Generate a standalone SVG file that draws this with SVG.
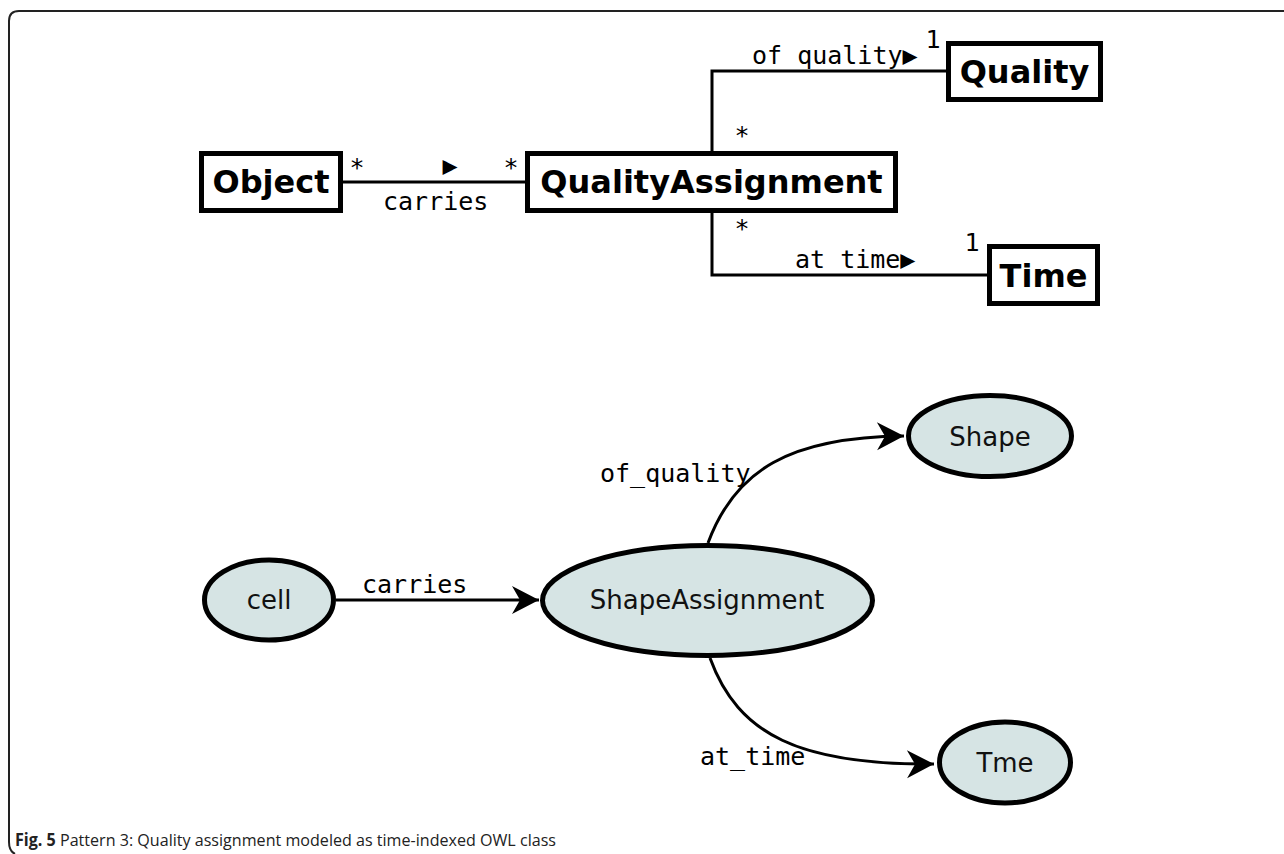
<svg xmlns="http://www.w3.org/2000/svg" width="1284" height="854" viewBox="0 0 1284 854">
<style>
.box{fill:#fff;stroke:#000;stroke-width:5}
.bt{font-family:"DejaVu Sans",sans-serif;font-weight:bold;font-size:32px;text-anchor:middle;fill:#000}
.mono{font-family:"DejaVu Sans Mono",monospace;font-size:25px;fill:#000}
.uline{fill:none;stroke:#000;stroke-width:3}
.ell{fill:#d6e4e4;stroke:#000;stroke-width:5}
.nt{font-family:"DejaVu Sans",sans-serif;font-size:26px;text-anchor:middle;fill:#111}
.edge{fill:none;stroke:#000;stroke-width:3}
.cap{font-family:"Open Sans",sans-serif;font-size:17px;fill:#222}
</style>
<defs>
<marker id="arr" markerUnits="userSpaceOnUse" viewBox="-28 -15 29 30" refX="0" refY="0" markerWidth="29" markerHeight="30" orient="auto">
<path d="M0,0 L-27,-14 L-19,0 L-27,14 Z" fill="#000"/>
</marker>
</defs>
<rect width="1284" height="854" fill="#fff"/>
<path d="M1284,11 H19 Q9,11 9,21 V842 Q9,851 15,854" fill="none" stroke="#222" stroke-width="2"/>

<g id="connectors">
<line class="uline" x1="343" y1="182" x2="525" y2="182"/>
<path class="uline" d="M712,151 V71 H946"/>
<path class="uline" d="M712,213 V275 H987"/>
<text class="mono" x="357" y="176" text-anchor="middle">*</text>
<text class="mono" x="450" y="174" text-anchor="middle">▶</text>
<text class="mono" x="511" y="176" text-anchor="middle">*</text>
<text class="mono" x="383" y="210">carries</text>
<text class="mono" x="752" y="64">of quality▶</text>
<text class="mono" x="933" y="48" text-anchor="middle">1</text>
<text class="mono" x="742" y="144" text-anchor="middle">*</text>
<text class="mono" x="742" y="237" text-anchor="middle">*</text>
<text class="mono" x="795" y="268">at time▶</text>
<text class="mono" x="972" y="251" text-anchor="middle">1</text>

<line class="edge" x1="336" y1="600" x2="539" y2="600" marker-end="url(#arr)"/>
<path class="edge" d="M708,543 C735,470 790,437 904,436" marker-end="url(#arr)"/>
<path class="edge" d="M710,658 C738,735 800,765 934,764" marker-end="url(#arr)"/>
<text class="mono" x="362" y="593">carries</text>
<text class="mono" x="600" y="482">of_quality</text>
<text class="mono" x="700" y="765">at_time</text>
</g>

<g id="Object"><rect class="box" x="201.5" y="153.5" width="139" height="57"/><text class="bt" x="271" y="193">Object</text></g>
<g id="QualityAssignment"><rect class="box" x="527.5" y="153.5" width="368" height="57"/><text class="bt" x="711.5" y="193">QualityAssignment</text></g>
<g id="Quality"><rect class="box" x="948.5" y="43.5" width="152" height="56"/><text class="bt" x="1024.5" y="83">Quality</text></g>
<g id="Time"><rect class="box" x="989.5" y="246.5" width="108" height="57"/><text class="bt" x="1043.5" y="287">Time</text></g>

<g id="cell"><ellipse class="ell" cx="269" cy="600" rx="64.5" ry="40"/><text class="nt" x="269" y="609">cell</text></g>
<g id="ShapeAssignment"><ellipse class="ell" cx="707.5" cy="600.5" rx="165" ry="55"/><text class="nt" x="707" y="609">ShapeAssignment</text></g>
<g id="Shape"><ellipse class="ell" cx="990" cy="436" rx="81.5" ry="40.5"/><text class="nt" x="990" y="446">Shape</text></g>
<g id="TimeNode"><ellipse class="ell" cx="1005" cy="762.5" rx="65.5" ry="40.5"/><text class="nt" x="1005" y="772">Tme</text></g>

<text class="cap" x="15" y="846" textLength="541" lengthAdjust="spacingAndGlyphs"><tspan font-weight="bold">Fig. 5</tspan> Pattern 3: Quality assignment modeled as time-indexed OWL class</text>
</svg>
